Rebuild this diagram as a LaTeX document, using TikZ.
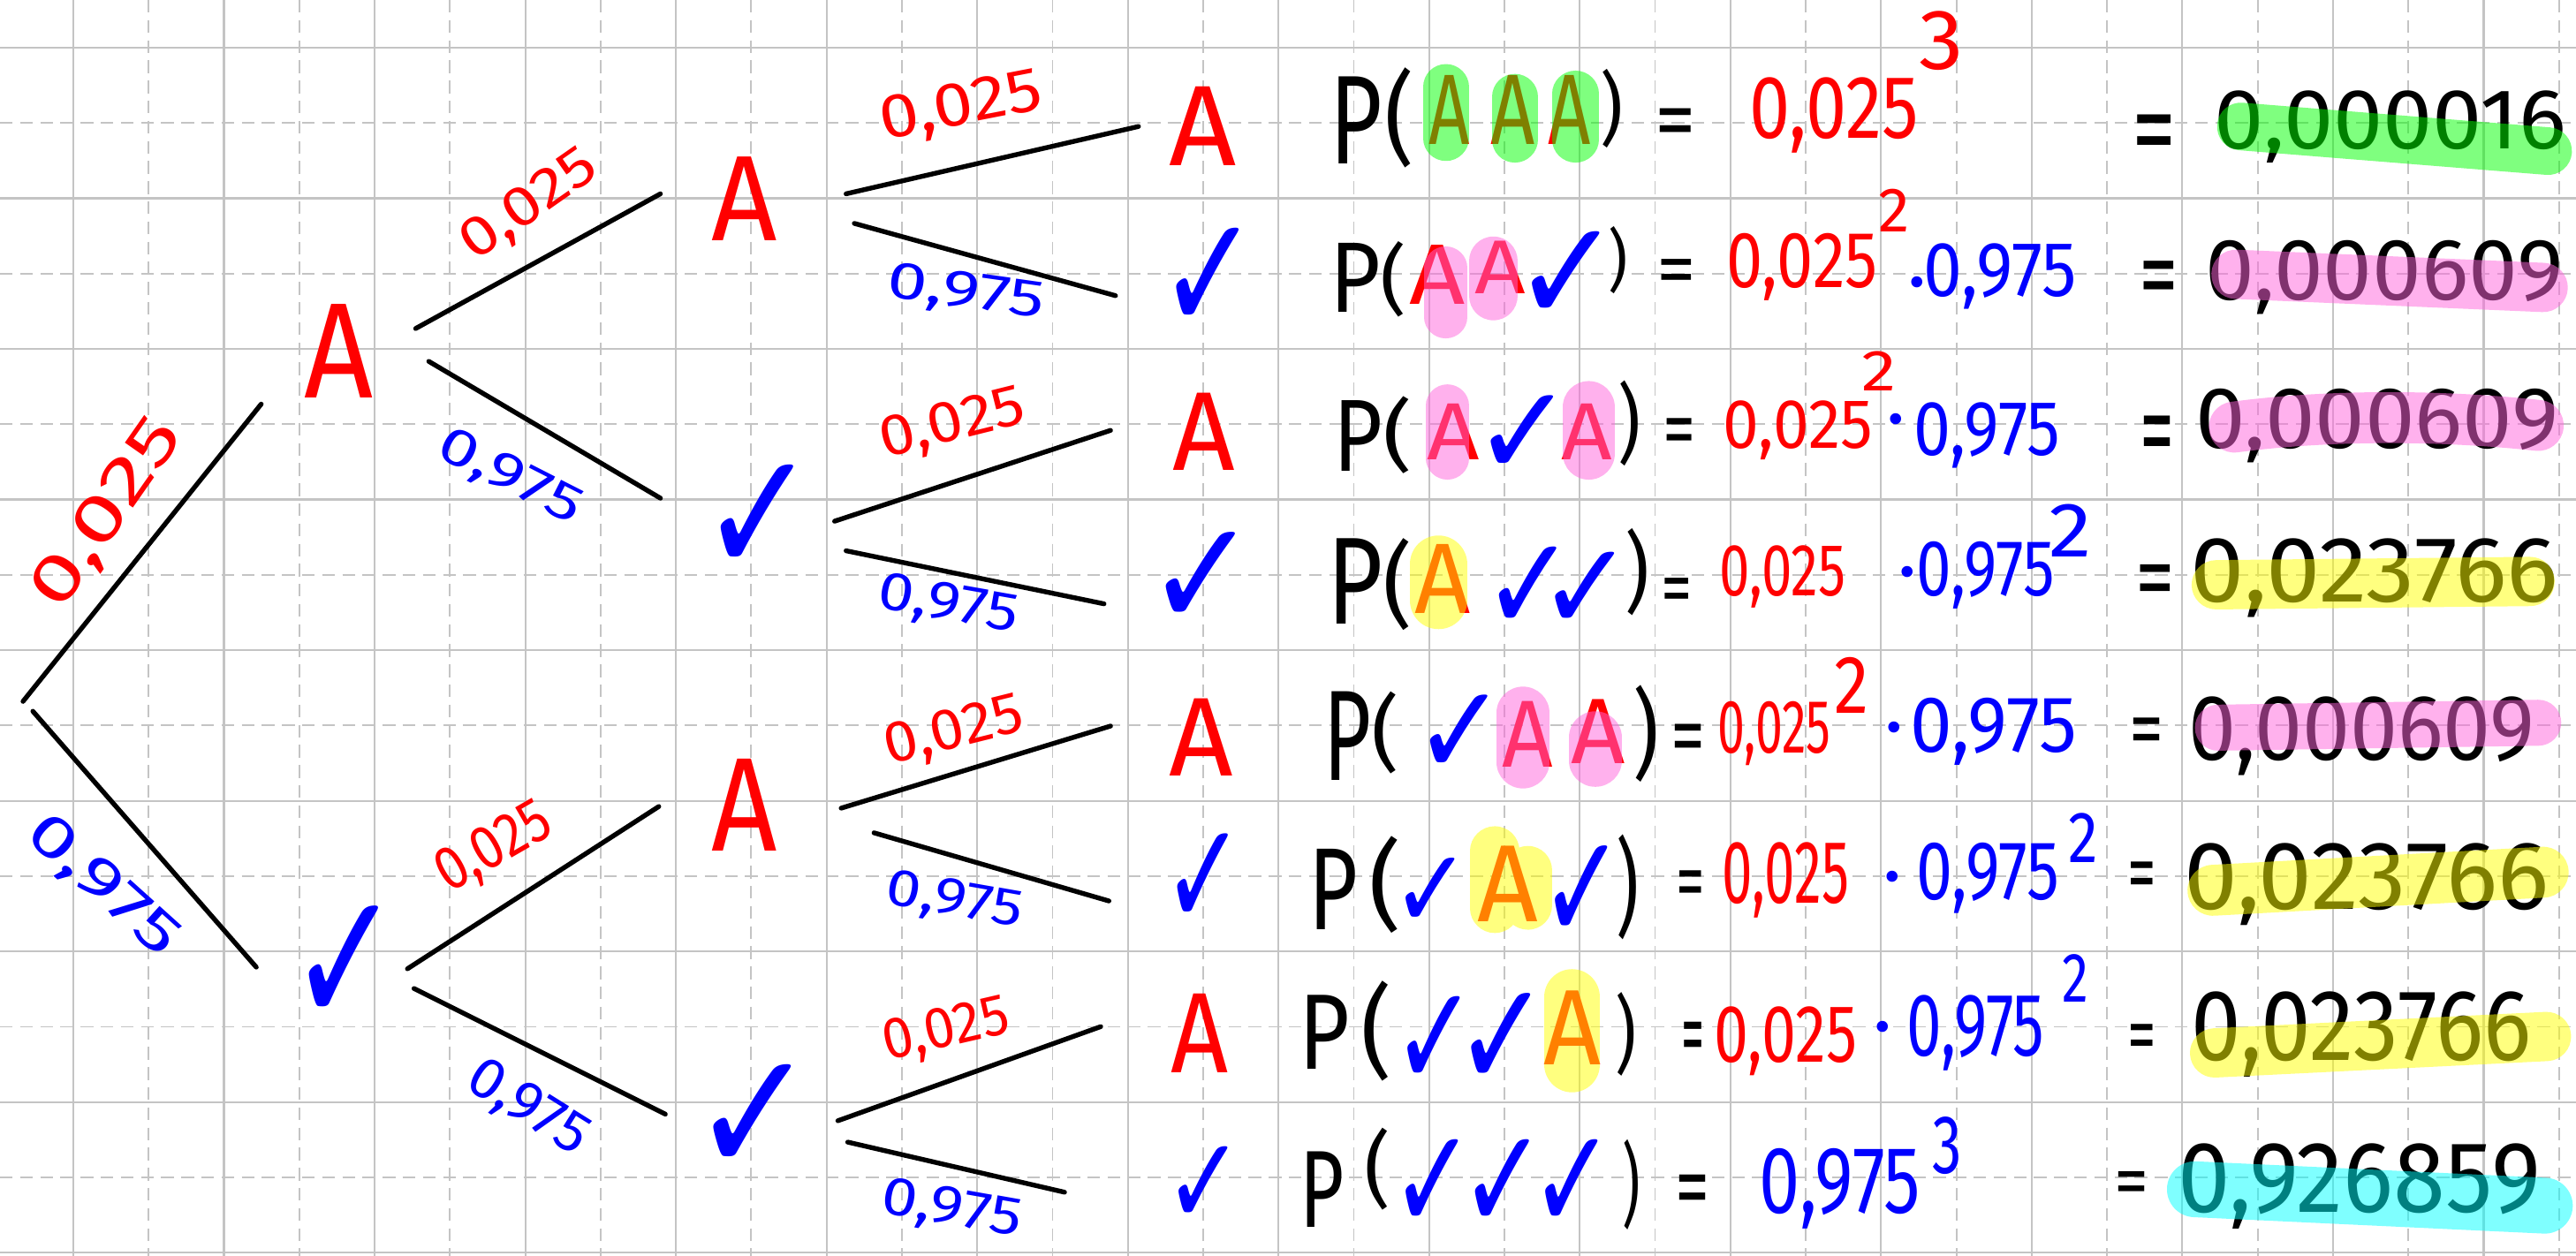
\documentclass[tikz,border=0pt]{standalone}
\usepackage{fontspec}
\usepackage{graphicx}
\setmainfont{Fira Sans}
\newfontfamily\ckfont{DejaVu Sans}
\usetikzlibrary{calc}
\newdimen\shu \shu=0.62pt
\newdimen\ckw \ckw=1.03pt
\newdimen\ckh \ckh=0.775pt
\newcommand\fx[3]{\resizebox*{#1\shu}{#2\shu}{#3}}
\newcommand\gl[7]{\node[#6] (#1) at (#2,#3) {\fx{#4}{#5}{#7}};}
\newcommand\ck{{\ckfont ✓}}
\newcommand\glk[5]{\node[tb] (#1) at ({#2},{#3+0.1*#5}) {\resizebox*{#4\ckw}{#5\ckh}{\ck}};}
\definecolor{pred}{RGB}{255,0,0}
\definecolor{pblue}{RGB}{0,0,255}
\definecolor{hgreen}{RGB}{0,255,0}
\definecolor{hpink}{RGB}{255,100,220}
\definecolor{hyellow}{RGB}{255,255,0}
\definecolor{hcyan}{RGB}{0,255,255}
\definecolor{gridc}{RGB}{196,196,196}
\begin{document}
\begin{tikzpicture}[x=0.62pt,y=-0.62pt,inner sep=0pt,outer sep=0pt,
  font=\fontsize{30}{36}\selectfont,
  tr/.style={text=pred}, tb/.style={text=pblue}, tk/.style={text=black},
  br/.style={line width=1.8pt,line cap=round,draw=black},
  gsolid/.style={draw=gridc,line width=0.7pt},
  gdash/.style={draw=gridc,line width=0.6pt,dash pattern=on 4.8pt off 2.8pt},
  hl/.style={line cap=round,opacity=0.5,line width=#1*0.62pt},
  hg/.style={hl=#1,draw=hgreen},
  hp/.style={hl=#1,draw=hpink},
  hy/.style={hl=#1,draw=hyellow},
  hc/.style={hl=#1,draw=hcyan}]
\useasboundingbox (0,0) rectangle (1568,764.64);
\fill[white] (0,0) rectangle (1568,764.64);
% grid
\foreach \i in {0,...,16} \draw[gsolid] ({44.6+91.7*\i},0) -- ++(0,764.64);
\foreach \i in {0,...,16} \draw[gdash] ({90.45+91.7*\i},0) -- ++(0,764.64);
\foreach \i in {0,...,8} \draw[gsolid] (0,{29+91.7*\i}) -- ++(1568,0);
\foreach \i in {0,...,7} \draw[gdash] (0,{74.85+91.7*\i}) -- ++(1568,0);

% tree nodes
\coordinate (r) at (17,430);
\gl{a}{206}{214}{42}{57}{tr}{A}
\glk{c}{210}{582}{41}{58}
\gl{aa}{453}{121}{40}{51}{tr}{A}
\glk{ac}{462}{311}{43}{53}
\gl{ca}{453}{490}{40}{56}{tr}{A}
\glk{cc}{459}{676}{46}{53}
\gl{aaa}{732}{77}{41}{48}{tr}{A}
\glk{aac}{736}{165}{37}{50}
\gl{aca}{733}{263}{38}{47}{tr}{A}
\glk{acc}{732}{348}{41}{46}
\gl{caa}{731}{449}{39}{47}{tr}{A}
\glk{cac}{733}{531}{30}{45}
\gl{cca}{730}{629}{35}{48}{tr}{A}
\glk{ccc}{733}{718}{29}{38}

% branches
\draw[br] ($(r)+(-3,-3)$) -- ($(a)+(-47,32)$);
\draw[br] ($(r)+(3,3)$) -- ($(c)+(-54,1)$);
\draw[br] ($(a)+(47,-14)$) -- ($(aa)+(-51,-3)$);
\draw[br] ($(a)+(55,6)$) -- ($(ac)+(-60,-13)$);
\draw[br] ($(c)+(38,2)$) -- ($(ca)+(-52,1)$);
\draw[br] ($(c)+(42,14)$) -- ($(cc)+(-54,-3)$);
\draw[br] ($(aa)+(62,-3)$) -- ($(aaa)+(-39,0)$);
\draw[br] ($(aa)+(67,15)$) -- ($(aac)+(-57,10)$);
\draw[br] ($(ac)+(46,1)$) -- ($(aca)+(-57,-1)$);
\draw[br] ($(ac)+(53,19)$) -- ($(acc)+(-60,15)$);
\draw[br] ($(ca)+(59,2)$) -- ($(caa)+(-55,-7)$);
\draw[br] ($(ca)+(79,17)$) -- ($(cac)+(-58,13)$);
\draw[br] ($(cc)+(51,1)$) -- ($(cca)+(-60,-4)$);
\draw[br] ($(cc)+(57,14)$) -- ($(ccc)+(-85,4)$);

% branch labels
\node[tr,rotate=55] (l1) at (66,313) {\fx{132}{34}{0,025}};
\node[tb,rotate=-42] (l2) at (62,540) {\fx{112}{30}{0,975}};
\node[tr,rotate=35] (l3) at (322.5,125.5) {\fx{94}{29}{0,025}};
\node[tb,rotate=-27] (l4) at (310,291) {\fx{94}{27}{0,975}};
\node[tr,rotate=30] (l5) at (301,517) {\fx{75}{32}{0,025}};
\node[tb,rotate=-32] (l6) at (321,675) {\fx{80}{30}{0,975}};
\node[tr,rotate=11] (l7) at (585,66) {\fx{100}{32}{0,025}};
\node[tb,rotate=-8] (l8) at (588,179) {\fx{96}{27}{0,975}};
\node[tr,rotate=14] (l9) at (580,259) {\fx{90}{30}{0,025}};
\node[tb,rotate=-10] (l10) at (577,369) {\fx{86}{28}{0,975}};
\node[tr,rotate=14] (l11) at (581,446) {\fx{86}{30}{0,025}};
\node[tb,rotate=-10] (l12) at (581,549) {\fx{84}{27}{0,975}};
\node[tr,rotate=13] (l13) at (576,628) {\fx{78}{30}{0,025}};
\node[tb,rotate=-10] (l14) at (579,737) {\fx{86}{28}{0,975}};

% row 1
\gl{p1}{825.5}{73.5}{32}{53}{tk}{P}
\gl{o1}{852}{71.5}{18}{61}{tk}{(}
\gl{x11}{882}{67}{25}{42}{tr}{A}
\gl{x12}{921}{67}{27}{42}{tr}{A}
\gl{x13}{955.5}{67}{26}{42}{tr}{A}
\gl{c1}{981}{66}{14}{48}{tk}{)}
\gl{e1}{1020}{78.5}{25}{25}{tk}{=}
\gl{n1}{1116.5}{70}{103}{46}{tr}{0,025}
\gl{s1}{1181.5}{25}{27}{36}{tr}{3}
\gl{f1}{1311.5}{86}{27}{32}{tk}{=}
\gl{v1}{1455}{77}{214}{44}{tk}{0,000016}
% row 2
\gl{p2}{825}{169}{31}{42}{tk}{P}
\gl{o2}{848}{170}{16}{46}{tk}{(}
\gl{x21}{875}{167}{34}{36}{tr}{A}
\gl{x22}{913}{163}{31}{32}{tr}{A}
\glk{x23}{954}{164}{40}{44}
\gl{c2}{985}{158.5}{12}{41}{tk}{)}
\gl{e2}{1020.5}{169}{24}{22}{tk}{=}
\gl{n2}{1097}{162.5}{92}{41}{tr}{0,025}
\gl{s2}{1153}{128}{19}{26}{tr}{2}
\node[tb,anchor=base] (d2) at (1167,187) {·};
\gl{m2}{1217.5}{168}{93}{40}{tb}{0,975}
\gl{f2}{1314}{174}{24}{30}{tk}{=}
\gl{v2}{1451.5}{169}{218}{45}{tk}{0,000609}
% row 3
\gl{p3}{826.5}{265.5}{30}{43}{tk}{P}
\gl{o3}{851}{265}{18}{47}{tk}{(}
\gl{x31}{884.5}{263}{32}{34}{tr}{A}
\glk{x32}{927.5}{261.5}{37}{39}
\gl{x33}{966}{263}{31}{34}{tr}{A}
\gl{c3}{992}{258}{14}{52}{tk}{)}
\gl{e3}{1022}{266.7}{20}{23.5}{tk}{=}
\gl{n3}{1094.5}{262}{91}{36}{tr}{0,025}
\gl{s3}{1144}{226}{21}{24}{tr}{2}
\node[tb,anchor=base] (d3) at (1154,270) {·};
\gl{m3}{1209.5}{265}{89}{40}{tb}{0,975}
\gl{f3}{1313}{269}{21}{32}{tk}{=}
\gl{v3}{1447}{259}{221}{45}{tk}{0,000609}
% row 4
\gl{p4}{825}{354}{34}{52}{tk}{P}
\gl{o4}{851}{356}{18}{56}{tk}{(}
\gl{x41}{878}{352.5}{34}{42}{tr}{A}
\glk{x42}{931}{354.5}{34}{41}
\glk{x43}{965.5}{356}{35}{38}
\gl{c4}{996.5}{348}{15}{53}{tk}{)}
\gl{e4}{1020.5}{363}{19}{22}{tk}{=}
\gl{n4}{1085}{351}{77}{38}{tr}{0,025}
\node[tb,anchor=base] (d4) at (1161,363) {·};
\gl{m4}{1208.5}{350.5}{84}{41}{tb}{0,975}
\gl{s4}{1260}{323}{26}{32}{tb}{2}
\gl{f4}{1312}{358}{24}{28}{tk}{=}
\gl{v4}{1445.5}{352}{224}{48}{tk}{0,023766}
% row 5
\gl{p5}{820}{448}{29}{54}{tk}{P}
\gl{o5}{843.5}{446}{17}{50}{tk}{(}
\glk{x51}{889}{443.5}{34}{39}
\gl{x52}{930}{447}{31}{40}{tr}{A}
\gl{x53}{973}{445.5}{33}{39}{tr}{A}
\gl{c5}{1002}{446.5}{16}{59}{tk}{)}
\gl{e5}{1027.5}{453.5}{21}{25}{tk}{=}
\gl{n5}{1080}{446.5}{69}{39}{tr}{0,025}
\gl{s5}{1127}{417}{21}{34}{tr}{2}
\node[tb,anchor=base] (d5) at (1153,458) {·};
\gl{m5}{1213.5}{445.5}{101}{41}{tb}{0,975}
\gl{f5}{1306.5}{449}{21}{24}{tk}{=}
\gl{v5}{1437.5}{448}{211}{48}{tk}{0,000609}
% row 6
\gl{p6}{811.5}{541.5}{30}{49}{tk}{P}
\gl{o6}{843}{538.5}{20}{59}{tk}{(}
\glk{x61}{871.5}{540}{29}{34}
\gl{x62}{918}{538}{37}{46}{tr}{A}
\glk{x63}{963.5}{539}{31}{46}
\gl{c6}{991}{540}{14}{64}{tk}{)}
\gl{e6}{1029}{541.7}{17.5}{23.5}{tk}{=}
\gl{n6}{1087}{536}{77}{46}{tr}{0,025}
\node[tb,anchor=base] (d6) at (1152,549) {·};
\gl{m6}{1210}{534.5}{87}{43}{tb}{0,975}
\gl{s6}{1268}{510}{18}{30}{tb}{2}
\gl{f6}{1304}{537}{17.5}{24}{tk}{=}
\gl{v6}{1440.5}{538.5}{222}{50}{tk}{0,023766}
% row 7
\gl{p7}{806}{628.5}{31}{45}{tk}{P}
\gl{o7}{838}{627.5}{19}{61}{tk}{(}
\glk{x71}{873.5}{630}{31}{44}
\glk{x72}{914.5}{629}{35}{46}
\gl{x73}{957}{625.5}{35}{45}{tr}{A}
\gl{c7}{989.5}{629.5}{13}{51}{tk}{)}
\gl{e7}{1030.5}{635.3}{14}{26.5}{tk}{=}
\gl{n7}{1087}{634}{87}{42}{tr}{0,025}
\node[tb,anchor=base] (d7) at (1146,640) {·};
\gl{m7}{1202.5}{629}{84}{46}{tb}{0,975}
\gl{s7}{1263.5}{595.5}{16}{29}{tb}{2}
\gl{f7}{1304}{635}{17.5}{23}{tk}{=}
\gl{v7}{1437.5}{629.5}{207}{52}{tk}{0,023766}
% row 8
\gl{p8}{804.5}{724}{27}{46}{tk}{P}
\gl{o8}{838.5}{712}{16}{50}{tk}{(}
\glk{x81}{872.5}{717}{31}{44}
\glk{x82}{915}{717}{32}{44}
\glk{x83}{957.5}{717}{31}{44}
\gl{c8}{993}{721}{11}{55}{tk}{)}
\gl{e8}{1030.5}{728.3}{21}{26.5}{tk}{=}
\gl{m8}{1120}{723.5}{98}{49}{tb}{0,975}
\gl{s8}{1185.5}{697.5}{18}{35}{tb}{3}
\gl{f8}{1297.5}{724}{21}{21}{tk}{=}
\gl{v8}{1436}{722.5}{221}{52}{tk}{0,926859}

% highlights: results
\draw[hg=29] (1364,77) -- (1551,92);
\draw[hp=30] (1361,167) -- (1548,175);
\draw[hp=31] (1360,260) .. controls (1420,252) and (1490,253) .. (1545,259);
\draw[hy=30] (1349,356) -- (1540,354);
\draw[hp=28] (1350,443) -- (1545,440);
\draw[hy=31] (1347,542) -- (1548,531);
\draw[hy=30] (1348,641) -- (1550,631);
\draw[hc=34] (1336,724) -- (1549,734);
% highlights: letters
\draw[hg=28] (880,53) -- (880,84);
\draw[hg=28] (922,59) -- (922,85);
\draw[hg=28] (959,57) -- (959,85);
\draw[hp=26] (880,163) -- (880,193);
\draw[hp=30] (909,159) -- (909,180);
\draw[hp=26] (881,247) -- (881,279);
\draw[hp=32] (967,248) -- (967,276);
\draw[hy=35] (875.5,343.5) -- (875.5,365.5);
\draw[hp=32] (927,434) -- (927,464);
\draw[hp=32] (971,449) -- (971,463);
\draw[hy=30] (910,518) -- (910,553) (930,530) -- (930,551);
\draw[hy=34] (957,607) -- (957,648);
\end{tikzpicture}
\end{document}
